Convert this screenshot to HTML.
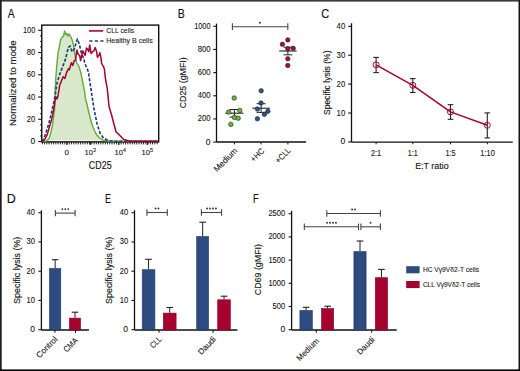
<!DOCTYPE html>
<html><head><meta charset="utf-8"><style>
html,body{margin:0;padding:0;background:#fff;}
svg{display:block;font-family:"Liberation Sans", sans-serif;}
</style></head><body>
<svg width="520" height="371" viewBox="0 0 520 371">
<rect width="520" height="371" fill="#fff"/>
<rect x="0" y="0" width="520" height="1.6" fill="#3a3a3a"/>
<rect x="0" y="0" width="1.7" height="371" fill="#1e1e1e"/>
<rect x="518.5" y="0" width="1.5" height="371" fill="#151515"/>
<rect x="0" y="369.4" width="520" height="1.6" fill="#050505"/>
<text transform="translate(7.8 17.5) scale(0.83 1)" x="0" y="0" font-size="12.4" fill="#111" stroke="#111" stroke-width="0.15">A</text>
<rect x="41.75" y="25.1" width="116.95" height="116.8" fill="none" stroke="#111" stroke-width="1.4"/>
<polygon points="44.0,141.4 46.5,141.1 49.1,138.4 50.8,133.0 52.4,125.5 53.4,118.0 54.5,110.5 55.0,104.0 55.0,92.0 55.5,83.8 55.9,76.5 56.6,68.0 57.4,59.0 57.9,53.6 59.6,45.5 60.6,39.7 62.6,36.7 63.5,36.5 64.6,31.0 65.8,34.5 66.7,33.4 67.8,36.1 68.9,33.9 70.2,35.8 72.0,39.3 73.8,46.5 74.7,53.6 76.5,62.5 79.1,66.9 80.9,73.1 82.7,82.0 84.5,91.0 85.7,100.0 87.0,104.0 88.8,112.5 92.0,124.5 95.5,133.0 98.5,137.0 103.0,140.1 109.0,141.2 158.0,140.6 44.0,140.6" fill="#d9e8cb" stroke="none"/>
<polyline points="44.0,141.4 46.5,141.1 49.1,138.4 50.8,133.0 52.4,125.5 53.4,118.0 54.5,110.5 55.0,104.0 55.0,92.0 55.5,83.8 55.9,76.5 56.6,68.0 57.4,59.0 57.9,53.6 59.6,45.5 60.6,39.7 62.6,36.7 63.5,36.5 64.6,31.0 65.8,34.5 66.7,33.4 67.8,36.1 68.9,33.9 70.2,35.8 72.0,39.3 73.8,46.5 74.7,53.6 76.5,62.5 79.1,66.9 80.9,73.1 82.7,82.0 84.5,91.0 85.7,100.0 87.0,104.0 88.8,112.5 92.0,124.5 95.5,133.0 98.5,137.0 103.0,140.1 109.0,141.2 158.0,141.2" fill="none" stroke="#64ad3a" stroke-width="1.45" stroke-linejoin="round" />
<polyline points="42.0,141.4 43.2,139.6 45.0,135.5 46.5,130.9 48.6,124.4 50.8,115.8 52.9,106.2 55.1,96.3 56.7,84.3 59.6,74.6 62.6,66.8 65.5,59.1 67.4,51.3 68.4,47.4 70.2,46.0 72.0,51.8 72.9,50.9 74.7,48.2 76.5,41.1 77.4,39.0 78.7,42.6 79.6,45.3 80.6,49.9 81.5,53.6 82.4,55.4 83.8,59.1 84.7,62.8 86.1,66.4 87.4,69.2 88.6,73.0 89.6,80.0 91.7,94.0 94.3,110.6 97.0,123.5 100.0,133.0 103.3,137.8 107.5,140.3 114.3,141.2 158.0,141.2" fill="none" stroke="#1f3f7a" stroke-width="1.65" stroke-linejoin="round" stroke-dasharray="3.2 1.7"/>
<polyline points="42.0,141.3 44.8,139.5 47.0,135.2 48.6,129.8 50.2,124.4 51.8,119.0 53.4,110.5 54.5,104.0 55.1,100.0 56.2,97.0 57.0,99.0 58.0,96.0 59.6,85.6 61.3,81.2 63.1,76.7 64.9,78.5 66.7,72.3 68.5,68.7 69.4,69.6 70.0,67.4 71.4,62.8 72.8,65.5 74.1,60.9 75.5,60.0 76.9,49.9 78.3,54.5 79.6,55.4 80.6,60.5 81.5,56.3 82.8,50.8 84.2,53.6 85.1,55.4 86.5,48.1 87.9,49.5 88.8,51.8 89.7,44.9 91.1,53.6 92.5,51.8 93.9,50.8 95.2,47.6 96.6,51.8 97.5,57.3 98.9,55.4 99.8,52.7 100.7,56.3 101.7,63.7 102.6,65.1 103.5,66.4 104.4,69.2 105.5,79.0 107.3,88.8 109.0,106.3 111.6,115.0 114.3,125.5 116.0,131.7 118.6,134.3 123.9,139.5 130.0,141.2 158.0,141.2" fill="none" stroke="#a5022f" stroke-width="1.5" stroke-linejoin="round" />
<line x1="38.2" y1="141.5" x2="41.75" y2="141.5" stroke="#111" stroke-width="1.1" />
<text x="35.3" y="144.0" font-size="8.5" text-anchor="end" fill="#151515" stroke="#151515" stroke-width="0.1">0</text>
<line x1="38.2" y1="119.25999999999999" x2="41.75" y2="119.25999999999999" stroke="#111" stroke-width="1.1" />
<text x="35.3" y="121.75999999999999" font-size="8.5" text-anchor="end" textLength="8.5" lengthAdjust="spacingAndGlyphs" fill="#151515" stroke="#151515" stroke-width="0.1">20</text>
<line x1="38.2" y1="97.02" x2="41.75" y2="97.02" stroke="#111" stroke-width="1.1" />
<text x="35.3" y="99.52" font-size="8.5" text-anchor="end" textLength="8.5" lengthAdjust="spacingAndGlyphs" fill="#151515" stroke="#151515" stroke-width="0.1">40</text>
<line x1="38.2" y1="74.78" x2="41.75" y2="74.78" stroke="#111" stroke-width="1.1" />
<text x="35.3" y="77.28" font-size="8.5" text-anchor="end" textLength="8.5" lengthAdjust="spacingAndGlyphs" fill="#151515" stroke="#151515" stroke-width="0.1">60</text>
<line x1="38.2" y1="52.53999999999999" x2="41.75" y2="52.53999999999999" stroke="#111" stroke-width="1.1" />
<text x="35.3" y="55.03999999999999" font-size="8.5" text-anchor="end" textLength="8.5" lengthAdjust="spacingAndGlyphs" fill="#151515" stroke="#151515" stroke-width="0.1">80</text>
<line x1="38.2" y1="30.299999999999983" x2="41.75" y2="30.299999999999983" stroke="#111" stroke-width="1.1" />
<text x="35.3" y="32.79999999999998" font-size="8.5" text-anchor="end" textLength="12.3" lengthAdjust="spacingAndGlyphs" fill="#151515" stroke="#151515" stroke-width="0.1">100</text>
<line x1="40.0" y1="135.94" x2="41.75" y2="135.94" stroke="#111" stroke-width="0.9" />
<line x1="40.0" y1="130.38" x2="41.75" y2="130.38" stroke="#111" stroke-width="0.9" />
<line x1="40.0" y1="124.82" x2="41.75" y2="124.82" stroke="#111" stroke-width="0.9" />
<line x1="40.0" y1="113.69999999999999" x2="41.75" y2="113.69999999999999" stroke="#111" stroke-width="0.9" />
<line x1="40.0" y1="108.14" x2="41.75" y2="108.14" stroke="#111" stroke-width="0.9" />
<line x1="40.0" y1="102.58" x2="41.75" y2="102.58" stroke="#111" stroke-width="0.9" />
<line x1="40.0" y1="91.46" x2="41.75" y2="91.46" stroke="#111" stroke-width="0.9" />
<line x1="40.0" y1="85.89999999999999" x2="41.75" y2="85.89999999999999" stroke="#111" stroke-width="0.9" />
<line x1="40.0" y1="80.34" x2="41.75" y2="80.34" stroke="#111" stroke-width="0.9" />
<line x1="40.0" y1="69.22" x2="41.75" y2="69.22" stroke="#111" stroke-width="0.9" />
<line x1="40.0" y1="63.66" x2="41.75" y2="63.66" stroke="#111" stroke-width="0.9" />
<line x1="40.0" y1="58.099999999999994" x2="41.75" y2="58.099999999999994" stroke="#111" stroke-width="0.9" />
<line x1="40.0" y1="46.97999999999999" x2="41.75" y2="46.97999999999999" stroke="#111" stroke-width="0.9" />
<line x1="40.0" y1="41.41999999999999" x2="41.75" y2="41.41999999999999" stroke="#111" stroke-width="0.9" />
<line x1="40.0" y1="35.859999999999985" x2="41.75" y2="35.859999999999985" stroke="#111" stroke-width="0.9" />
<line x1="42.3" y1="141.9" x2="42.3" y2="144.4" stroke="#111" stroke-width="0.9" />
<line x1="44.55" y1="141.9" x2="44.55" y2="144.4" stroke="#111" stroke-width="0.9" />
<line x1="46.8" y1="141.9" x2="46.8" y2="144.4" stroke="#111" stroke-width="0.9" />
<line x1="49.05" y1="141.9" x2="49.05" y2="144.4" stroke="#111" stroke-width="0.9" />
<line x1="51.3" y1="141.9" x2="51.3" y2="144.4" stroke="#111" stroke-width="0.9" />
<line x1="53.55" y1="141.9" x2="53.55" y2="144.4" stroke="#111" stroke-width="0.9" />
<line x1="55.8" y1="141.9" x2="55.8" y2="144.4" stroke="#111" stroke-width="0.9" />
<line x1="58.05" y1="141.9" x2="58.05" y2="144.4" stroke="#111" stroke-width="0.9" />
<line x1="60.3" y1="141.9" x2="60.3" y2="144.4" stroke="#111" stroke-width="0.9" />
<line x1="62.55" y1="141.9" x2="62.55" y2="144.4" stroke="#111" stroke-width="0.9" />
<line x1="64.8" y1="141.9" x2="64.8" y2="144.4" stroke="#111" stroke-width="0.9" />
<line x1="67.05" y1="141.9" x2="67.05" y2="144.4" stroke="#111" stroke-width="0.9" />
<line x1="69.3" y1="141.9" x2="69.3" y2="144.4" stroke="#111" stroke-width="0.9" />
<line x1="71.55" y1="141.9" x2="71.55" y2="144.4" stroke="#111" stroke-width="0.9" />
<line x1="73.8" y1="141.9" x2="73.8" y2="144.4" stroke="#111" stroke-width="0.9" />
<line x1="76.05" y1="141.9" x2="76.05" y2="144.4" stroke="#111" stroke-width="0.9" />
<line x1="78.3" y1="141.9" x2="78.3" y2="144.4" stroke="#111" stroke-width="0.9" />
<line x1="80.55" y1="141.9" x2="80.55" y2="144.4" stroke="#111" stroke-width="0.9" />
<line x1="82.8" y1="141.9" x2="82.8" y2="144.4" stroke="#111" stroke-width="0.9" />
<line x1="85.05" y1="141.9" x2="85.05" y2="144.4" stroke="#111" stroke-width="0.9" />
<line x1="87.3" y1="141.9" x2="87.3" y2="144.4" stroke="#111" stroke-width="0.9" />
<line x1="89.55" y1="141.9" x2="89.55" y2="144.4" stroke="#111" stroke-width="0.9" />
<line x1="91.8" y1="141.9" x2="91.8" y2="144.4" stroke="#111" stroke-width="0.9" />
<line x1="94.05" y1="141.9" x2="94.05" y2="144.4" stroke="#111" stroke-width="0.9" />
<line x1="96.3" y1="141.9" x2="96.3" y2="144.4" stroke="#111" stroke-width="0.9" />
<line x1="98.55" y1="141.9" x2="98.55" y2="144.4" stroke="#111" stroke-width="0.9" />
<line x1="100.8" y1="141.9" x2="100.8" y2="144.4" stroke="#111" stroke-width="0.9" />
<line x1="103.05" y1="141.9" x2="103.05" y2="144.4" stroke="#111" stroke-width="0.9" />
<line x1="105.3" y1="141.9" x2="105.3" y2="144.4" stroke="#111" stroke-width="0.9" />
<line x1="107.55" y1="141.9" x2="107.55" y2="144.4" stroke="#111" stroke-width="0.9" />
<line x1="109.8" y1="141.9" x2="109.8" y2="144.4" stroke="#111" stroke-width="0.9" />
<line x1="112.05" y1="141.9" x2="112.05" y2="144.4" stroke="#111" stroke-width="0.9" />
<line x1="114.3" y1="141.9" x2="114.3" y2="144.4" stroke="#111" stroke-width="0.9" />
<line x1="116.55" y1="141.9" x2="116.55" y2="144.4" stroke="#111" stroke-width="0.9" />
<line x1="118.8" y1="141.9" x2="118.8" y2="144.4" stroke="#111" stroke-width="0.9" />
<line x1="121.05" y1="141.9" x2="121.05" y2="144.4" stroke="#111" stroke-width="0.9" />
<line x1="123.3" y1="141.9" x2="123.3" y2="144.4" stroke="#111" stroke-width="0.9" />
<line x1="125.55" y1="141.9" x2="125.55" y2="144.4" stroke="#111" stroke-width="0.9" />
<line x1="127.8" y1="141.9" x2="127.8" y2="144.4" stroke="#111" stroke-width="0.9" />
<line x1="130.05" y1="141.9" x2="130.05" y2="144.4" stroke="#111" stroke-width="0.9" />
<line x1="132.3" y1="141.9" x2="132.3" y2="144.4" stroke="#111" stroke-width="0.9" />
<line x1="134.55" y1="141.9" x2="134.55" y2="144.4" stroke="#111" stroke-width="0.9" />
<line x1="136.8" y1="141.9" x2="136.8" y2="144.4" stroke="#111" stroke-width="0.9" />
<line x1="139.05" y1="141.9" x2="139.05" y2="144.4" stroke="#111" stroke-width="0.9" />
<line x1="141.3" y1="141.9" x2="141.3" y2="144.4" stroke="#111" stroke-width="0.9" />
<line x1="143.55" y1="141.9" x2="143.55" y2="144.4" stroke="#111" stroke-width="0.9" />
<line x1="145.8" y1="141.9" x2="145.8" y2="144.4" stroke="#111" stroke-width="0.9" />
<line x1="148.05" y1="141.9" x2="148.05" y2="144.4" stroke="#111" stroke-width="0.9" />
<line x1="150.3" y1="141.9" x2="150.3" y2="144.4" stroke="#111" stroke-width="0.9" />
<line x1="152.55" y1="141.9" x2="152.55" y2="144.4" stroke="#111" stroke-width="0.9" />
<line x1="154.8" y1="141.9" x2="154.8" y2="144.4" stroke="#111" stroke-width="0.9" />
<line x1="157.05" y1="141.9" x2="157.05" y2="144.4" stroke="#111" stroke-width="0.9" />
<line x1="67" y1="141.9" x2="67" y2="145.0" stroke="#111" stroke-width="1.0" />
<line x1="90.3" y1="141.9" x2="90.3" y2="145.0" stroke="#111" stroke-width="1.0" />
<line x1="118.8" y1="141.9" x2="118.8" y2="145.0" stroke="#111" stroke-width="1.0" />
<line x1="147.3" y1="141.9" x2="147.3" y2="145.0" stroke="#111" stroke-width="1.0" />
<text x="66.8" y="155.3" font-size="8.0" text-anchor="middle" fill="#151515" stroke="#151515" stroke-width="0.1">0</text>
<text x="90.2" y="155.3" font-size="7.6" text-anchor="middle" fill="#151515" stroke="#151515" stroke-width="0.1">10<tspan font-size="5.4" dy="-3.1">3</tspan></text>
<text x="120.2" y="155.3" font-size="7.6" text-anchor="middle" fill="#151515" stroke="#151515" stroke-width="0.1">10<tspan font-size="5.4" dy="-3.1">4</tspan></text>
<text x="147.2" y="155.3" font-size="7.6" text-anchor="middle" fill="#151515" stroke="#151515" stroke-width="0.1">10<tspan font-size="5.4" dy="-3.1">5</tspan></text>
<text x="100.2" y="169" font-size="10.2" text-anchor="middle" textLength="22.8" lengthAdjust="spacingAndGlyphs" fill="#151515" stroke="#151515" stroke-width="0.14">CD25</text>
<text x="16.2" y="83.3" font-size="9.4" text-anchor="middle" textLength="85.5" lengthAdjust="spacingAndGlyphs" transform="rotate(-90 16.2 83.3)" fill="#151515" stroke="#151515" stroke-width="0.14">Normalized to mode</text>
<line x1="89" y1="30.9" x2="103.2" y2="30.9" stroke="#a5022f" stroke-width="1.6" />
<line x1="89.3" y1="41" x2="103.5" y2="41" stroke="#1f3f7a" stroke-width="1.6" stroke-dasharray="3.2 2.3"/>
<text x="106.3" y="33.2" font-size="7.6" text-anchor="start" textLength="27.8" lengthAdjust="spacingAndGlyphs" fill="#151515" stroke="#151515" stroke-width="0.1">CLL cells</text>
<text x="106.3" y="42.9" font-size="7.6" text-anchor="start" textLength="46.4" lengthAdjust="spacingAndGlyphs" fill="#151515" stroke="#151515" stroke-width="0.1">Healthy B cells</text>
<text transform="translate(177.8 17.5) scale(0.85 1)" x="0" y="0" font-size="12.4" fill="#111" stroke="#111" stroke-width="0.15">B</text>
<line x1="216.5" y1="23.6" x2="216.5" y2="142.0" stroke="#111" stroke-width="1.3" />
<line x1="216.5" y1="142.0" x2="306.2" y2="142.0" stroke="#111" stroke-width="1.3" />
<line x1="213.3" y1="142.1" x2="216.5" y2="142.1" stroke="#111" stroke-width="1.1" />
<text x="210.5" y="144.6" font-size="8.5" text-anchor="end" fill="#151515" stroke="#151515" stroke-width="0.1">0</text>
<line x1="213.3" y1="118.94" x2="216.5" y2="118.94" stroke="#111" stroke-width="1.1" />
<text x="210.5" y="121.44" font-size="8.5" text-anchor="end" textLength="12.8" lengthAdjust="spacingAndGlyphs" fill="#151515" stroke="#151515" stroke-width="0.1">200</text>
<line x1="213.3" y1="95.78" x2="216.5" y2="95.78" stroke="#111" stroke-width="1.1" />
<text x="210.5" y="98.28" font-size="8.5" text-anchor="end" textLength="12.8" lengthAdjust="spacingAndGlyphs" fill="#151515" stroke="#151515" stroke-width="0.1">400</text>
<line x1="213.3" y1="72.61999999999999" x2="216.5" y2="72.61999999999999" stroke="#111" stroke-width="1.1" />
<text x="210.5" y="75.11999999999999" font-size="8.5" text-anchor="end" textLength="12.8" lengthAdjust="spacingAndGlyphs" fill="#151515" stroke="#151515" stroke-width="0.1">600</text>
<line x1="213.3" y1="49.459999999999994" x2="216.5" y2="49.459999999999994" stroke="#111" stroke-width="1.1" />
<text x="210.5" y="51.959999999999994" font-size="8.5" text-anchor="end" textLength="12.8" lengthAdjust="spacingAndGlyphs" fill="#151515" stroke="#151515" stroke-width="0.1">800</text>
<line x1="213.3" y1="26.299999999999997" x2="216.5" y2="26.299999999999997" stroke="#111" stroke-width="1.1" />
<text x="210.5" y="28.799999999999997" font-size="8.5" text-anchor="end" textLength="16.3" lengthAdjust="spacingAndGlyphs" fill="#151515" stroke="#151515" stroke-width="0.1">1000</text>
<line x1="234.4" y1="142.1" x2="234.4" y2="144.4" stroke="#111" stroke-width="1.0" />
<line x1="261.1" y1="142.1" x2="261.1" y2="144.4" stroke="#111" stroke-width="1.0" />
<line x1="287.9" y1="142.1" x2="287.9" y2="144.4" stroke="#111" stroke-width="1.0" />
<text x="186.3" y="82.8" font-size="9.1" text-anchor="middle" textLength="51" lengthAdjust="spacingAndGlyphs" transform="rotate(-90 186.3 82.8)" fill="#151515" stroke="#151515" stroke-width="0.14">CD25 (gMFI)</text>
<text x="237.9" y="151.4" font-size="8.3" text-anchor="end" textLength="29.5" lengthAdjust="spacingAndGlyphs" transform="rotate(-45 237.9 151.4)" fill="#151515" stroke="#151515" stroke-width="0.1">Medium</text>
<text x="264.8" y="151.5" font-size="8.3" text-anchor="end" textLength="15.5" lengthAdjust="spacingAndGlyphs" transform="rotate(-45 264.8 151.5)" fill="#151515" stroke="#151515" stroke-width="0.1">+HC</text>
<text x="291.3" y="151.0" font-size="8.3" text-anchor="end" textLength="18" lengthAdjust="spacingAndGlyphs" transform="rotate(-45 291.3 151.0)" fill="#151515" stroke="#151515" stroke-width="0.1">+CLL</text>
<g stroke="#444" stroke-width="1.1">
<line x1="232.4" y1="26.7" x2="287.8" y2="26.7" stroke="#444" stroke-width="1.1" />
<line x1="232.4" y1="23.3" x2="232.4" y2="30.1" stroke="#444" stroke-width="1.1" />
<line x1="287.8" y1="23.3" x2="287.8" y2="30.1" stroke="#444" stroke-width="1.1" />
</g>
<circle cx="259.9" cy="22.8" r="0.95" fill="#333"/>
<line x1="225.4" y1="113.2" x2="243.4" y2="113.2" stroke="#222" stroke-width="1.1" />
<line x1="234.4" y1="109.5" x2="234.4" y2="117.2" stroke="#222" stroke-width="1.0" />
<line x1="229.6" y1="109.5" x2="239.20000000000002" y2="109.5" stroke="#222" stroke-width="1.0" />
<line x1="229.6" y1="117.2" x2="239.20000000000002" y2="117.2" stroke="#222" stroke-width="1.0" />
<circle cx="234.2" cy="98" r="2.25" fill="#6cb33e" stroke="#1b2a1b" stroke-width="0.6"/>
<circle cx="228.7" cy="112.1" r="2.25" fill="#6cb33e" stroke="#1b2a1b" stroke-width="0.6"/>
<circle cx="239.8" cy="110.5" r="2.25" fill="#6cb33e" stroke="#1b2a1b" stroke-width="0.6"/>
<circle cx="234.4" cy="117.4" r="2.25" fill="#6cb33e" stroke="#1b2a1b" stroke-width="0.6"/>
<circle cx="238.2" cy="118.2" r="2.25" fill="#6cb33e" stroke="#1b2a1b" stroke-width="0.6"/>
<circle cx="230.8" cy="124.4" r="2.25" fill="#6cb33e" stroke="#1b2a1b" stroke-width="0.6"/>
<line x1="252.3" y1="108.2" x2="269.90000000000003" y2="108.2" stroke="#222" stroke-width="1.1" />
<line x1="261.1" y1="103.7" x2="261.1" y2="112.4" stroke="#222" stroke-width="1.0" />
<line x1="256.6" y1="103.7" x2="265.6" y2="103.7" stroke="#222" stroke-width="1.0" />
<line x1="256.6" y1="112.4" x2="265.6" y2="112.4" stroke="#222" stroke-width="1.0" />
<circle cx="261.2" cy="90.8" r="2.25" fill="#2c5190" stroke="#1b2a1b" stroke-width="0.6"/>
<circle cx="261" cy="103" r="2.25" fill="#2c5190" stroke="#1b2a1b" stroke-width="0.6"/>
<circle cx="257.4" cy="109.1" r="2.25" fill="#2c5190" stroke="#1b2a1b" stroke-width="0.6"/>
<circle cx="267.9" cy="111.3" r="2.25" fill="#2c5190" stroke="#1b2a1b" stroke-width="0.6"/>
<circle cx="264.4" cy="114.3" r="2.25" fill="#2c5190" stroke="#1b2a1b" stroke-width="0.6"/>
<circle cx="257.4" cy="118.8" r="2.25" fill="#2c5190" stroke="#1b2a1b" stroke-width="0.6"/>
<line x1="279.15" y1="51" x2="296.65" y2="51" stroke="#222" stroke-width="1.1" />
<line x1="287.9" y1="47.2" x2="287.9" y2="54.8" stroke="#222" stroke-width="1.0" />
<line x1="283.5" y1="47.2" x2="292.29999999999995" y2="47.2" stroke="#222" stroke-width="1.0" />
<line x1="283.5" y1="54.8" x2="292.29999999999995" y2="54.8" stroke="#222" stroke-width="1.0" />
<circle cx="287.8" cy="39.9" r="2.25" fill="#a80d34" stroke="#1b2a1b" stroke-width="0.6"/>
<circle cx="282.4" cy="44.3" r="2.25" fill="#a80d34" stroke="#1b2a1b" stroke-width="0.6"/>
<circle cx="287.8" cy="48.7" r="2.25" fill="#a80d34" stroke="#1b2a1b" stroke-width="0.6"/>
<circle cx="293.2" cy="48.3" r="2.25" fill="#a80d34" stroke="#1b2a1b" stroke-width="0.6"/>
<circle cx="287.8" cy="58.8" r="2.25" fill="#a80d34" stroke="#1b2a1b" stroke-width="0.6"/>
<circle cx="287.8" cy="65.5" r="2.25" fill="#a80d34" stroke="#1b2a1b" stroke-width="0.6"/>
<text transform="translate(321.3 17.5) scale(0.89 1)" x="0" y="0" font-size="12.4" fill="#111" stroke="#111" stroke-width="0.15">C</text>
<line x1="351.5" y1="23.2" x2="351.5" y2="142.2" stroke="#111" stroke-width="1.3" />
<line x1="351.5" y1="142.2" x2="512.8" y2="142.2" stroke="#111" stroke-width="1.3" />
<line x1="348.2" y1="141.9" x2="351.5" y2="141.9" stroke="#111" stroke-width="1.1" />
<text x="345.2" y="144.4" font-size="8.5" text-anchor="end" fill="#151515" stroke="#151515" stroke-width="0.1">0</text>
<line x1="348.2" y1="113.0" x2="351.5" y2="113.0" stroke="#111" stroke-width="1.1" />
<text x="345.2" y="115.5" font-size="8.5" text-anchor="end" textLength="8.6" lengthAdjust="spacingAndGlyphs" fill="#151515" stroke="#151515" stroke-width="0.1">10</text>
<line x1="348.2" y1="84.1" x2="351.5" y2="84.1" stroke="#111" stroke-width="1.1" />
<text x="345.2" y="86.6" font-size="8.5" text-anchor="end" textLength="8.6" lengthAdjust="spacingAndGlyphs" fill="#151515" stroke="#151515" stroke-width="0.1">20</text>
<line x1="348.2" y1="55.2" x2="351.5" y2="55.2" stroke="#111" stroke-width="1.1" />
<text x="345.2" y="57.7" font-size="8.5" text-anchor="end" textLength="8.6" lengthAdjust="spacingAndGlyphs" fill="#151515" stroke="#151515" stroke-width="0.1">30</text>
<line x1="348.2" y1="26.299999999999997" x2="351.5" y2="26.299999999999997" stroke="#111" stroke-width="1.1" />
<text x="345.2" y="28.799999999999997" font-size="8.5" text-anchor="end" textLength="8.6" lengthAdjust="spacingAndGlyphs" fill="#151515" stroke="#151515" stroke-width="0.1">40</text>
<line x1="376.1" y1="142.2" x2="376.1" y2="144.3" stroke="#111" stroke-width="1.0" />
<line x1="412.8" y1="142.2" x2="412.8" y2="144.3" stroke="#111" stroke-width="1.0" />
<line x1="450.5" y1="142.2" x2="450.5" y2="144.3" stroke="#111" stroke-width="1.0" />
<line x1="487.3" y1="142.2" x2="487.3" y2="144.3" stroke="#111" stroke-width="1.0" />
<text x="376.1" y="155.5" font-size="8.6" text-anchor="middle" textLength="10.2" lengthAdjust="spacingAndGlyphs" fill="#151515" stroke="#151515" stroke-width="0.1">2:1</text>
<text x="412.8" y="155.5" font-size="8.6" text-anchor="middle" textLength="10.0" lengthAdjust="spacingAndGlyphs" fill="#151515" stroke="#151515" stroke-width="0.1">1:1</text>
<text x="450.5" y="155.5" font-size="8.6" text-anchor="middle" textLength="10.2" lengthAdjust="spacingAndGlyphs" fill="#151515" stroke="#151515" stroke-width="0.1">1:5</text>
<text x="487.6" y="155.5" font-size="8.6" text-anchor="middle" textLength="14.5" lengthAdjust="spacingAndGlyphs" fill="#151515" stroke="#151515" stroke-width="0.1">1:10</text>
<text x="431.9" y="168.8" font-size="9.5" text-anchor="middle" textLength="33.4" lengthAdjust="spacingAndGlyphs" fill="#151515" stroke="#151515" stroke-width="0.14">E:T ratio</text>
<text x="330.1" y="82.75" font-size="9.0" text-anchor="middle" textLength="64.5" lengthAdjust="spacingAndGlyphs" transform="rotate(-90 330.1 82.75)" fill="#151515" stroke="#151515" stroke-width="0.14">Specific lysis (%)</text>
<line x1="376.1" y1="57.4" x2="376.1" y2="72.6" stroke="#222" stroke-width="1.1" />
<line x1="373.3" y1="57.4" x2="378.90000000000003" y2="57.4" stroke="#222" stroke-width="1.1" />
<line x1="373.3" y1="72.6" x2="378.90000000000003" y2="72.6" stroke="#222" stroke-width="1.1" />
<line x1="412.8" y1="78.6" x2="412.8" y2="92.5" stroke="#222" stroke-width="1.1" />
<line x1="410.0" y1="78.6" x2="415.6" y2="78.6" stroke="#222" stroke-width="1.1" />
<line x1="410.0" y1="92.5" x2="415.6" y2="92.5" stroke="#222" stroke-width="1.1" />
<line x1="450.5" y1="104.7" x2="450.5" y2="119.3" stroke="#222" stroke-width="1.1" />
<line x1="447.7" y1="104.7" x2="453.3" y2="104.7" stroke="#222" stroke-width="1.1" />
<line x1="447.7" y1="119.3" x2="453.3" y2="119.3" stroke="#222" stroke-width="1.1" />
<line x1="487.3" y1="112.9" x2="487.3" y2="137.9" stroke="#222" stroke-width="1.1" />
<line x1="484.5" y1="112.9" x2="490.1" y2="112.9" stroke="#222" stroke-width="1.1" />
<line x1="484.5" y1="137.9" x2="490.1" y2="137.9" stroke="#222" stroke-width="1.1" />
<polyline points="376.1,64.8 412.8,85.3 450.5,111.9 487.3,125.3" fill="none" stroke="#a5022f" stroke-width="1.5" stroke-linejoin="round" />
<circle cx="376.1" cy="64.8" r="3.0" fill="none" stroke="#a5022f" stroke-width="1"/>
<circle cx="412.8" cy="85.3" r="3.0" fill="none" stroke="#a5022f" stroke-width="1"/>
<circle cx="450.5" cy="111.9" r="3.0" fill="none" stroke="#a5022f" stroke-width="1"/>
<circle cx="487.3" cy="125.3" r="3.0" fill="none" stroke="#a5022f" stroke-width="1"/>
<text transform="translate(6.8 203.0) scale(1.0 1)" x="0" y="0" font-size="12.4" fill="#111" stroke="#111" stroke-width="0.15">D</text>
<line x1="41.4" y1="210.2" x2="41.4" y2="330.0" stroke="#111" stroke-width="1.3" />
<line x1="41.4" y1="330.0" x2="88.9" y2="330.0" stroke="#111" stroke-width="1.3" />
<line x1="38.4" y1="329.7" x2="41.4" y2="329.7" stroke="#111" stroke-width="1.1" />
<text x="35.0" y="332.2" font-size="8.5" text-anchor="end" fill="#151515" stroke="#151515" stroke-width="0.1">0</text>
<line x1="38.4" y1="300.45" x2="41.4" y2="300.45" stroke="#111" stroke-width="1.1" />
<text x="35.0" y="302.95" font-size="8.5" text-anchor="end" textLength="8.4" lengthAdjust="spacingAndGlyphs" fill="#151515" stroke="#151515" stroke-width="0.1">10</text>
<line x1="38.4" y1="271.2" x2="41.4" y2="271.2" stroke="#111" stroke-width="1.1" />
<text x="35.0" y="273.7" font-size="8.5" text-anchor="end" textLength="8.4" lengthAdjust="spacingAndGlyphs" fill="#151515" stroke="#151515" stroke-width="0.1">20</text>
<line x1="38.4" y1="241.95" x2="41.4" y2="241.95" stroke="#111" stroke-width="1.1" />
<text x="35.0" y="244.45" font-size="8.5" text-anchor="end" textLength="8.4" lengthAdjust="spacingAndGlyphs" fill="#151515" stroke="#151515" stroke-width="0.1">30</text>
<line x1="38.4" y1="212.7" x2="41.4" y2="212.7" stroke="#111" stroke-width="1.1" />
<text x="35.0" y="215.2" font-size="8.5" text-anchor="end" textLength="8.4" lengthAdjust="spacingAndGlyphs" fill="#151515" stroke="#151515" stroke-width="0.1">40</text>
<rect x="49.5" y="268.5" width="11.299999999999999" height="61.500000000000014" fill="#2d4b7f" stroke="#203a6a" stroke-width="0.6"/>
<line x1="55.150000000000006" y1="268.2" x2="55.150000000000006" y2="259.7" stroke="#222" stroke-width="1.0" />
<line x1="51.85000000000001" y1="259.7" x2="58.45" y2="259.7" stroke="#222" stroke-width="1.1" />
<rect x="69.39999999999999" y="318.1" width="11.200000000000012" height="11.899999999999988" fill="#a5022f" stroke="#8e0027" stroke-width="0.6"/>
<line x1="75.0" y1="317.8" x2="75.0" y2="312.2" stroke="#222" stroke-width="1.0" />
<line x1="71.7" y1="312.2" x2="78.3" y2="312.2" stroke="#222" stroke-width="1.1" />
<line x1="54.9" y1="330.0" x2="54.9" y2="332.8" stroke="#111" stroke-width="1.0" />
<line x1="75.5" y1="330.0" x2="75.5" y2="332.8" stroke="#111" stroke-width="1.0" />
<text x="58.0" y="340.0" font-size="8.3" text-anchor="end" textLength="26" lengthAdjust="spacingAndGlyphs" transform="rotate(-45 58.0 340.0)" fill="#151515" stroke="#151515" stroke-width="0.1">Control</text>
<text x="78.5" y="341.0" font-size="8.3" text-anchor="end" textLength="16.5" lengthAdjust="spacingAndGlyphs" transform="rotate(-45 78.5 341.0)" fill="#151515" stroke="#151515" stroke-width="0.1">CMA</text>
<line x1="55.4" y1="213.1" x2="75.1" y2="213.1" stroke="#454545" stroke-width="1.1" />
<line x1="55.4" y1="209.9" x2="55.4" y2="216.29999999999998" stroke="#454545" stroke-width="1.1" />
<line x1="75.1" y1="209.9" x2="75.1" y2="216.29999999999998" stroke="#454545" stroke-width="1.1" />
<circle cx="62.35" cy="209.10" r="0.95" fill="#333"/>
<circle cx="65.30" cy="209.10" r="0.95" fill="#333"/>
<circle cx="68.25" cy="209.10" r="0.95" fill="#333"/>
<text x="20.4" y="270.3" font-size="9.0" text-anchor="middle" textLength="67.2" lengthAdjust="spacingAndGlyphs" transform="rotate(-90 20.4 270.3)" fill="#151515" stroke="#151515" stroke-width="0.14">Specific lysis (%)</text>
<text transform="translate(105.0 203.0) scale(0.72 1)" x="0" y="0" font-size="12.4" fill="#111" stroke="#111" stroke-width="0.15">E</text>
<line x1="134.5" y1="210.2" x2="134.5" y2="330.0" stroke="#111" stroke-width="1.3" />
<line x1="134.5" y1="330.0" x2="237.4" y2="330.0" stroke="#111" stroke-width="1.3" />
<line x1="131.5" y1="329.7" x2="134.5" y2="329.7" stroke="#111" stroke-width="1.1" />
<text x="128.1" y="332.2" font-size="8.5" text-anchor="end" fill="#151515" stroke="#151515" stroke-width="0.1">0</text>
<line x1="131.5" y1="300.45" x2="134.5" y2="300.45" stroke="#111" stroke-width="1.1" />
<text x="128.1" y="302.95" font-size="8.5" text-anchor="end" textLength="8.4" lengthAdjust="spacingAndGlyphs" fill="#151515" stroke="#151515" stroke-width="0.1">10</text>
<line x1="131.5" y1="271.2" x2="134.5" y2="271.2" stroke="#111" stroke-width="1.1" />
<text x="128.1" y="273.7" font-size="8.5" text-anchor="end" textLength="8.4" lengthAdjust="spacingAndGlyphs" fill="#151515" stroke="#151515" stroke-width="0.1">20</text>
<line x1="131.5" y1="241.95" x2="134.5" y2="241.95" stroke="#111" stroke-width="1.1" />
<text x="128.1" y="244.45" font-size="8.5" text-anchor="end" textLength="8.4" lengthAdjust="spacingAndGlyphs" fill="#151515" stroke="#151515" stroke-width="0.1">30</text>
<line x1="131.5" y1="212.7" x2="134.5" y2="212.7" stroke="#111" stroke-width="1.1" />
<text x="128.1" y="215.2" font-size="8.5" text-anchor="end" textLength="8.4" lengthAdjust="spacingAndGlyphs" fill="#151515" stroke="#151515" stroke-width="0.1">40</text>
<rect x="142.20000000000002" y="269.7" width="12.699999999999983" height="60.300000000000026" fill="#2d4b7f" stroke="#203a6a" stroke-width="0.6"/>
<line x1="148.55" y1="269.4" x2="148.55" y2="259.3" stroke="#222" stroke-width="1.0" />
<line x1="145.25" y1="259.3" x2="151.85000000000002" y2="259.3" stroke="#222" stroke-width="1.1" />
<rect x="163.3" y="313.1" width="12.800000000000006" height="16.899999999999988" fill="#a5022f" stroke="#8e0027" stroke-width="0.6"/>
<line x1="169.7" y1="312.8" x2="169.7" y2="307.5" stroke="#222" stroke-width="1.0" />
<line x1="166.39999999999998" y1="307.5" x2="173.0" y2="307.5" stroke="#222" stroke-width="1.1" />
<rect x="196.70000000000002" y="236.5" width="11.9" height="93.50000000000001" fill="#2d4b7f" stroke="#203a6a" stroke-width="0.6"/>
<line x1="202.65" y1="236.2" x2="202.65" y2="222.2" stroke="#222" stroke-width="1.0" />
<line x1="199.35" y1="222.2" x2="205.95000000000002" y2="222.2" stroke="#222" stroke-width="1.1" />
<rect x="217.70000000000002" y="299.8" width="12.699999999999983" height="30.2" fill="#a5022f" stroke="#8e0027" stroke-width="0.6"/>
<line x1="224.05" y1="299.5" x2="224.05" y2="296.2" stroke="#222" stroke-width="1.0" />
<line x1="220.75" y1="296.2" x2="227.35000000000002" y2="296.2" stroke="#222" stroke-width="1.1" />
<line x1="159" y1="330.0" x2="159" y2="332.8" stroke="#111" stroke-width="1.0" />
<line x1="213" y1="330.0" x2="213" y2="332.8" stroke="#111" stroke-width="1.0" />
<text x="162.1" y="339.8" font-size="8.3" text-anchor="end" textLength="12.5" lengthAdjust="spacingAndGlyphs" transform="rotate(-45 162.1 339.8)" fill="#151515" stroke="#151515" stroke-width="0.1">CLL</text>
<text x="216.4" y="340.0" font-size="8.3" text-anchor="end" textLength="21.5" lengthAdjust="spacingAndGlyphs" transform="rotate(-45 216.4 340.0)" fill="#151515" stroke="#151515" stroke-width="0.1">Daudi</text>
<line x1="146.9" y1="212.5" x2="167.3" y2="212.5" stroke="#454545" stroke-width="1.1" />
<line x1="146.9" y1="209.3" x2="146.9" y2="215.7" stroke="#454545" stroke-width="1.1" />
<line x1="167.3" y1="209.3" x2="167.3" y2="215.7" stroke="#454545" stroke-width="1.1" />
<circle cx="155.53" cy="208.50" r="0.95" fill="#333"/>
<circle cx="158.47" cy="208.50" r="0.95" fill="#333"/>
<line x1="201.4" y1="212.5" x2="221.6" y2="212.5" stroke="#454545" stroke-width="1.1" />
<line x1="201.4" y1="209.3" x2="201.4" y2="215.7" stroke="#454545" stroke-width="1.1" />
<line x1="221.6" y1="209.3" x2="221.6" y2="215.7" stroke="#454545" stroke-width="1.1" />
<circle cx="207.07" cy="208.50" r="0.95" fill="#333"/>
<circle cx="210.03" cy="208.50" r="0.95" fill="#333"/>
<circle cx="212.97" cy="208.50" r="0.95" fill="#333"/>
<circle cx="215.93" cy="208.50" r="0.95" fill="#333"/>
<text x="111.6" y="270.3" font-size="9.0" text-anchor="middle" textLength="67.2" lengthAdjust="spacingAndGlyphs" transform="rotate(-90 111.6 270.3)" fill="#151515" stroke="#151515" stroke-width="0.14">Specific lysis (%)</text>
<text transform="translate(252.95 203.0) scale(0.74 1)" x="0" y="0" font-size="12.4" fill="#111" stroke="#111" stroke-width="0.15">F</text>
<line x1="291.6" y1="210.7" x2="291.6" y2="330.0" stroke="#111" stroke-width="1.3" />
<line x1="291.6" y1="330.0" x2="396.7" y2="330.0" stroke="#111" stroke-width="1.3" />
<line x1="288.6" y1="329.7" x2="291.6" y2="329.7" stroke="#111" stroke-width="1.1" />
<text x="285.20000000000005" y="332.2" font-size="8.5" text-anchor="end" fill="#151515" stroke="#151515" stroke-width="0.1">0</text>
<line x1="288.6" y1="306.5" x2="291.6" y2="306.5" stroke="#111" stroke-width="1.1" />
<text x="285.20000000000005" y="309.0" font-size="8.5" text-anchor="end" textLength="12.600000000000001" lengthAdjust="spacingAndGlyphs" fill="#151515" stroke="#151515" stroke-width="0.1">500</text>
<line x1="288.6" y1="283.3" x2="291.6" y2="283.3" stroke="#111" stroke-width="1.1" />
<text x="285.20000000000005" y="285.8" font-size="8.5" text-anchor="end" textLength="16.8" lengthAdjust="spacingAndGlyphs" fill="#151515" stroke="#151515" stroke-width="0.1">1000</text>
<line x1="288.6" y1="260.1" x2="291.6" y2="260.1" stroke="#111" stroke-width="1.1" />
<text x="285.20000000000005" y="262.6" font-size="8.5" text-anchor="end" textLength="16.8" lengthAdjust="spacingAndGlyphs" fill="#151515" stroke="#151515" stroke-width="0.1">1500</text>
<line x1="288.6" y1="236.89999999999998" x2="291.6" y2="236.89999999999998" stroke="#111" stroke-width="1.1" />
<text x="285.20000000000005" y="239.39999999999998" font-size="8.5" text-anchor="end" textLength="16.8" lengthAdjust="spacingAndGlyphs" fill="#151515" stroke="#151515" stroke-width="0.1">2000</text>
<line x1="288.6" y1="213.7" x2="291.6" y2="213.7" stroke="#111" stroke-width="1.1" />
<text x="285.20000000000005" y="216.2" font-size="8.5" text-anchor="end" textLength="16.8" lengthAdjust="spacingAndGlyphs" fill="#151515" stroke="#151515" stroke-width="0.1">2500</text>
<rect x="299.90000000000003" y="310.5" width="12.4" height="19.50000000000001" fill="#2d4b7f" stroke="#203a6a" stroke-width="0.6"/>
<line x1="306.1" y1="310.2" x2="306.1" y2="307.3" stroke="#222" stroke-width="1.0" />
<line x1="302.8" y1="307.3" x2="309.40000000000003" y2="307.3" stroke="#222" stroke-width="1.1" />
<rect x="321.5" y="308.6" width="12.200000000000012" height="21.399999999999988" fill="#a5022f" stroke="#8e0027" stroke-width="0.6"/>
<line x1="327.6" y1="308.3" x2="327.6" y2="306.2" stroke="#222" stroke-width="1.0" />
<line x1="324.3" y1="306.2" x2="330.90000000000003" y2="306.2" stroke="#222" stroke-width="1.1" />
<rect x="353.90000000000003" y="251.60000000000002" width="12.199999999999955" height="78.39999999999999" fill="#2d4b7f" stroke="#203a6a" stroke-width="0.6"/>
<line x1="360.0" y1="251.3" x2="360.0" y2="241" stroke="#222" stroke-width="1.0" />
<line x1="356.7" y1="241" x2="363.3" y2="241" stroke="#222" stroke-width="1.1" />
<rect x="375.3" y="277.7" width="12.299999999999978" height="52.300000000000026" fill="#a5022f" stroke="#8e0027" stroke-width="0.6"/>
<line x1="381.45" y1="277.4" x2="381.45" y2="269.4" stroke="#222" stroke-width="1.0" />
<line x1="378.15" y1="269.4" x2="384.75" y2="269.4" stroke="#222" stroke-width="1.1" />
<line x1="316.3" y1="330.0" x2="316.3" y2="332.8" stroke="#111" stroke-width="1.0" />
<line x1="371.7" y1="330.0" x2="371.7" y2="332.8" stroke="#111" stroke-width="1.0" />
<text x="319.6" y="341.6" font-size="8.3" text-anchor="end" textLength="28" lengthAdjust="spacingAndGlyphs" transform="rotate(-45 319.6 341.6)" fill="#151515" stroke="#151515" stroke-width="0.1">Medium</text>
<text x="375.1" y="340.3" font-size="8.3" text-anchor="end" textLength="21" lengthAdjust="spacingAndGlyphs" transform="rotate(-45 375.1 340.3)" fill="#151515" stroke="#151515" stroke-width="0.1">Daudi</text>
<line x1="326.8" y1="213.5" x2="380.4" y2="213.5" stroke="#454545" stroke-width="1.1" />
<line x1="326.8" y1="210.3" x2="326.8" y2="216.7" stroke="#454545" stroke-width="1.1" />
<line x1="380.4" y1="210.3" x2="380.4" y2="216.7" stroke="#454545" stroke-width="1.1" />
<circle cx="352.12" cy="209.50" r="0.95" fill="#333"/>
<circle cx="355.08" cy="209.50" r="0.95" fill="#333"/>
<line x1="304.3" y1="226.8" x2="358.5" y2="226.8" stroke="#454545" stroke-width="1.1" />
<line x1="304.3" y1="223.60000000000002" x2="304.3" y2="230.0" stroke="#454545" stroke-width="1.1" />
<line x1="358.5" y1="223.60000000000002" x2="358.5" y2="230.0" stroke="#454545" stroke-width="1.1" />
<circle cx="327.07" cy="222.80" r="0.95" fill="#333"/>
<circle cx="330.02" cy="222.80" r="0.95" fill="#333"/>
<circle cx="332.98" cy="222.80" r="0.95" fill="#333"/>
<circle cx="335.93" cy="222.80" r="0.95" fill="#333"/>
<line x1="360.9" y1="226.8" x2="380.4" y2="226.8" stroke="#454545" stroke-width="1.1" />
<line x1="360.9" y1="223.60000000000002" x2="360.9" y2="230.0" stroke="#454545" stroke-width="1.1" />
<line x1="380.4" y1="223.60000000000002" x2="380.4" y2="230.0" stroke="#454545" stroke-width="1.1" />
<circle cx="370.60" cy="222.80" r="0.95" fill="#333"/>
<text x="261.5" y="269.6" font-size="9.1" text-anchor="middle" textLength="51.1" lengthAdjust="spacingAndGlyphs" transform="rotate(-90 261.5 269.6)" fill="#151515" stroke="#151515" stroke-width="0.14">CD69 (gMFI)</text>
<rect x="406.2" y="266.2" width="13.4" height="7.1" fill="#2d4b7f"/>
<rect x="406.2" y="281" width="13.4" height="7.1" fill="#a5022f"/>
<text x="422.9" y="271.9" font-size="7.7" text-anchor="start" textLength="56.1" lengthAdjust="spacingAndGlyphs" fill="#151515" stroke="#151515" stroke-width="0.1">HC Vγ9Vδ2-T cells</text>
<text x="422.9" y="286.7" font-size="7.7" text-anchor="start" textLength="57.1" lengthAdjust="spacingAndGlyphs" fill="#151515" stroke="#151515" stroke-width="0.1">CLL Vγ9Vδ2-T cells</text>
</svg></body></html>
